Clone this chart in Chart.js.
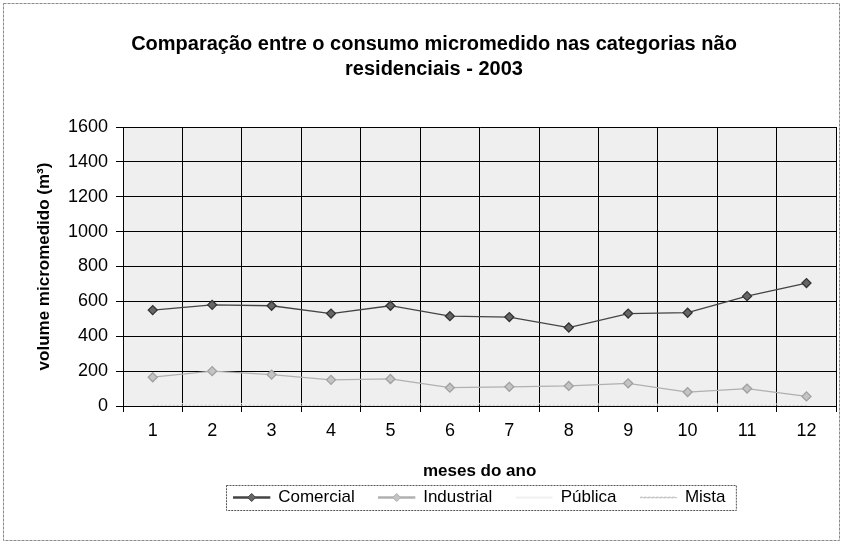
<!DOCTYPE html>
<html>
<head>
<meta charset="utf-8">
<script src="https://cdn.jsdelivr.net/npm/chart.js@4/dist/chart.umd.min.js"></script>
<style>
html, body { margin: 0; padding: 0; background: #fff; }
</style>
</head>
<body>
<canvas id="myChart" width="842" height="543"></canvas>
<script>
// consumo micromedido (m³) por categoria - 2003
var meses = ['1', '2', '3', '4', '5', '6', '7', '8', '9', '10', '11', '12'];
var comercial = [550, 580, 575, 530, 575, 515, 510, 450, 530, 535, 630, 705];
var industrial = [165, 200, 180, 150, 155, 105, 110, 115, 130, 80, 100, 55];
var publica = [12, 14, 13, 12, 11, 12, 13, 12, 11, 10, 12, 11];
var mista = [4, 5, 4, 4, 5, 4, 4, 5, 4, 4, 5, 4];
var yMax = 1600;
var yStep = 200;

Chart.defaults.font.family = "'Liberation Sans', Arial, sans-serif";
Chart.defaults.color = '#000';

var legendBox = 36;

// fundo cinza da área do gráfico, moldura externa e caixa da legenda
var moldura = {
    id: 'moldura',
    beforeDraw: function(chart){
        var ctx = chart.ctx, a = chart.chartArea;
        ctx.save();
        ctx.fillStyle = '#ffffff';
        ctx.fillRect(0, 0, chart.width, chart.height);
        ctx.fillStyle = '#efefef';
        ctx.fillRect(a.left, a.top, a.right - a.left, a.bottom - a.top);
        ctx.restore();
    },
    afterDraw: function(chart){
        var ctx = chart.ctx;
        ctx.save();
        ctx.strokeStyle = '#8a8a8a';
        ctx.lineWidth = 1;
        ctx.setLineDash([3, 1]);
        ctx.strokeRect(3.5, 3.5, chart.width - 6, chart.height - 6);
        var boxes = chart.legend.legendHitBoxes;
        if (boxes && boxes.length){
            var l = boxes[0].left, r = boxes[boxes.length - 1].left + boxes[boxes.length - 1].width;
            var t = boxes[0].top, b = boxes[0].top + boxes[0].height;
            ctx.strokeStyle = '#555';
            ctx.setLineDash([2, 1]);
            ctx.strokeRect(Math.round(l - 8) + 0.5, Math.round(t - 4) + 0.5, r - l + 18, b - t + 8);
            // marcadores na legenda
            ctx.setLineDash([]);
            var ds = chart.data.datasets;
            boxes.forEach(function(bx, i){
                if (!ds[i].pointRadius) return;
                var cx = bx.left + legendBox / 2, cy = bx.top + bx.height / 2;
                ctx.fillStyle = ds[i].pointBackgroundColor;
                ctx.strokeStyle = ds[i].borderColor;
                ctx.beginPath();
                ctx.moveTo(cx, cy - 4); ctx.lineTo(cx + 4, cy); ctx.lineTo(cx, cy + 4); ctx.lineTo(cx - 4, cy);
                ctx.closePath(); ctx.fill(); ctx.stroke();
            });
        }
        ctx.restore();
    }
};

var ctx = document.getElementById('myChart');
var myChart = new Chart(ctx, {
    type: 'line',
    data: {
        labels: meses,
        datasets: [{
            label: 'Comercial',
            data: comercial,
            borderColor: '#444',
            backgroundColor: '#444',
            borderWidth: 1.3,
            pointStyle: 'rectRot',
            pointRadius: 4.5,
            pointBackgroundColor: '#666',
            pointBorderColor: '#333',
            tension: 0
        }, {
            label: 'Industrial',
            data: industrial,
            borderColor: '#b0b0b0',
            backgroundColor: '#b0b0b0',
            borderWidth: 1.3,
            pointStyle: 'rectRot',
            pointRadius: 4.5,
            pointBackgroundColor: '#c4c4c4',
            pointBorderColor: '#a0a0a0',
            tension: 0
        }, {
            label: 'Pública',
            data: publica,
            borderColor: '#f0f0f0',
            backgroundColor: '#f4f4f4',
            borderWidth: 1,
            pointRadius: 0,
            tension: 0
        }, {
            label: 'Mista',
            data: mista,
            borderColor: '#c8c8c8',
            backgroundColor: '#c8c8c8',
            borderWidth: 1,
            borderDash: [2, 2],
            pointRadius: 0,
            tension: 0
        }]
    },
    options: {
        responsive: false,
        animation: false,
        layout: { padding: { left: 30, right: 4, top: 0, bottom: 27 } },
        plugins: {
            title: {
                display: true,
                text: ['Comparação entre o consumo micromedido nas categorias não', 'residenciais - 2003'],
                font: { size: 20, weight: 'bold', lineHeight: 1.25 },
                padding: { top: 32, bottom: 45 }
            },
            legend: {
                position: 'bottom',
                fullSize: false,
                labels: {
                    boxWidth: legendBox,
                    boxHeight: 1,
                    padding: 24,
                    font: { size: 17 }
                }
            },
            tooltip: { enabled: false }
        },
        scales: {
            x: {
                offset: true,
                grid: { offset: true, color: '#000', tickLength: 6 },
                border: { color: '#000' },
                ticks: { font: { size: 18 }, padding: 8 },
                title: { display: true, text: 'meses do ano', font: { size: 17, weight: 'bold' }, padding: { top: 12, bottom: -17 } }
            },
            y: {
                min: 0,
                max: yMax,
                grid: { color: '#000', tickLength: 7 },
                border: { color: '#000' },
                ticks: {
                    stepSize: yStep,
                    font: { size: 18 },
                    padding: 8,
                    callback: function(v){ return String(v); }
                },
                title: { display: true, text: 'volume micromedido (m³)', font: { size: 17, weight: 'bold' } },
                afterFit: function(scale){ scale.width = 93; }
            }
        }
    },
    plugins: [moldura]
});
</script>
</body>
</html>
